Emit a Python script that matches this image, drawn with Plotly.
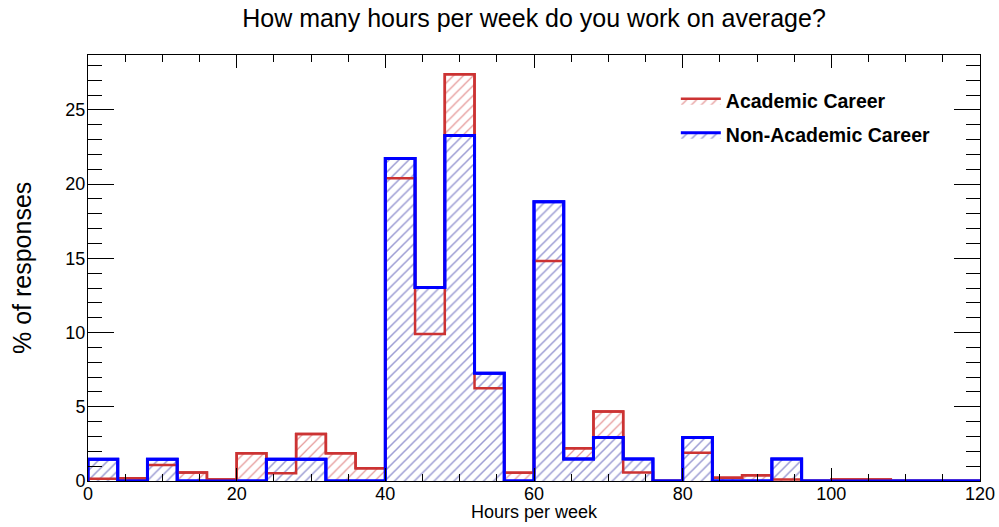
import plotly.graph_objects as go

bin_edges = list(range(0, 124, 4))
academic = [0.15, 0.18, 1.08, 0.58, 0.1, 1.87, 0.52, 3.17, 1.87, 0.86,
            20.4, 9.9, 27.4, 6.25, 0.56, 14.82, 2.2, 4.68, 0.58, 0.0,
            1.9, 0.22, 0.38, 0.1, 0.0, 0.1, 0.1, 0.0, 0.0, 0.0]
non_academic = [1.46, 0.0, 1.46, 0.0, 0.0, 0.0, 1.46, 1.46, 0.0, 0.0,
                21.72, 13.03, 23.27, 7.26, 0.0, 18.82, 1.48, 2.93, 1.48, 0.0,
                2.93, 0.0, 0.0, 1.48, 0.0, 0.0, 0.0, 0.0, 0.0, 0.0]
x_ticks = [0, 20, 40, 60, 80, 100, 120]
y_ticks = [0, 5, 10, 15, 20, 25]

RED = "#cc3333"
BLUE = "#0000ff"
BLUE_HATCH = "#3a3aa8"


def step(vals):
    xs = [bin_edges[0]] + bin_edges[:-1] + [bin_edges[-1], bin_edges[-1]]
    ys = [0] + vals + [vals[-1], 0]
    return xs, ys


def hatch(col, bg, sol=0.18):
    return dict(shape="/", fgcolor=col, bgcolor=bg, size=7, solidity=sol)


FONT = "Liberation Sans, Arial"
fig = go.Figure()
xa, ya = step(academic)
xn, yn = step(non_academic)

# academic: hatched fill + outline (legend entry)
fig.add_trace(go.Scatter(
    x=xa, y=ya, mode="lines", line=dict(shape="hv", color=RED, width=2.5),
    fill="tozeroy", fillcolor="rgba(0,0,0,0)", fillpattern=hatch(RED, "rgba(0,0,0,0)"),
    name="Academic Career", legend="legend", showlegend=True))
# non-academic hatched fill + outline (legend entry; covers academic hatch underneath)
fig.add_trace(go.Scatter(
    x=xn, y=yn, mode="lines", line=dict(shape="hv", color=BLUE, width=3),
    fill="tozeroy", fillcolor="rgba(0,0,0,0)", fillpattern=hatch(BLUE_HATCH, "white", 0.22),
    name="Non-Academic Career", legend="legend2", showlegend=True))
# academic outline kept visible on top of the non-academic fill
fig.add_trace(go.Scatter(
    x=xa, y=ya, mode="lines", line=dict(shape="hv", color=RED, width=2.5),
    showlegend=False, hoverinfo="skip"))
# non-academic outline on top
fig.add_trace(go.Scatter(
    x=xn, y=yn, mode="lines", line=dict(shape="hv", color=BLUE, width=3),
    showlegend=False, hoverinfo="skip"))

axis_common = dict(showline=True, linecolor="black", linewidth=1, mirror="allticks",
                   ticks="inside", tickcolor="black", showgrid=False, zeroline=False,
                   automargin=False,
                   tickfont=dict(family=FONT, size=18, color="black"))

legend_font = dict(family=FONT, size=19.5, color="black", weight="bold")
fig.update_layout(
    width=999, height=527,
    margin=dict(l=88, r=19, t=55, b=46),
    plot_bgcolor="white", paper_bgcolor="white",
    showlegend=True,
    title=dict(text="How many hours per week do you work on average?",
               xref="paper", x=0.5, xanchor="center",
               yref="container", y=0.966, yanchor="middle",
               font=dict(family=FONT, size=25, color="black")),
    xaxis=dict(range=[0, 120], tickmode="array", tickvals=x_ticks,
               ticklen=13, ticklabelstandoff=-4,
               minor=dict(dtick=5, tick0=0, ticks="inside", ticklen=7, tickcolor="black"),
               **axis_common),
    yaxis=dict(range=[0, 28.7], tickmode="array", tickvals=y_ticks,
               ticklen=26, ticklabelstandoff=-2,
               minor=dict(dtick=1, tick0=0, ticks="inside", ticklen=14, tickcolor="black"),
               **axis_common),
    legend=dict(x=0.659, y=0.892, xanchor="left", yanchor="middle",
                bgcolor="rgba(0,0,0,0)", itemwidth=40, font=legend_font),
    legend2=dict(x=0.659, y=0.812, xanchor="left", yanchor="middle",
                 bgcolor="rgba(0,0,0,0)", itemwidth=40, font=legend_font),
    annotations=[
        dict(text="Hours per week", xref="paper", yref="paper", x=0.5, y=0,
             xanchor="center", yanchor="middle", yshift=-31, showarrow=False,
             font=dict(family=FONT, size=18, color="black")),
        dict(text="% of responses", xref="paper", yref="paper", x=0, y=0.5,
             xanchor="center", yanchor="middle", xshift=-66, textangle=-90,
             showarrow=False, font=dict(family=FONT, size=25, color="black")),
    ],
)

fig.write_html("out.html", config={"displayModeBar": False},
               post_script="document.body.style.margin='0';document.body.style.overflow='hidden';")
